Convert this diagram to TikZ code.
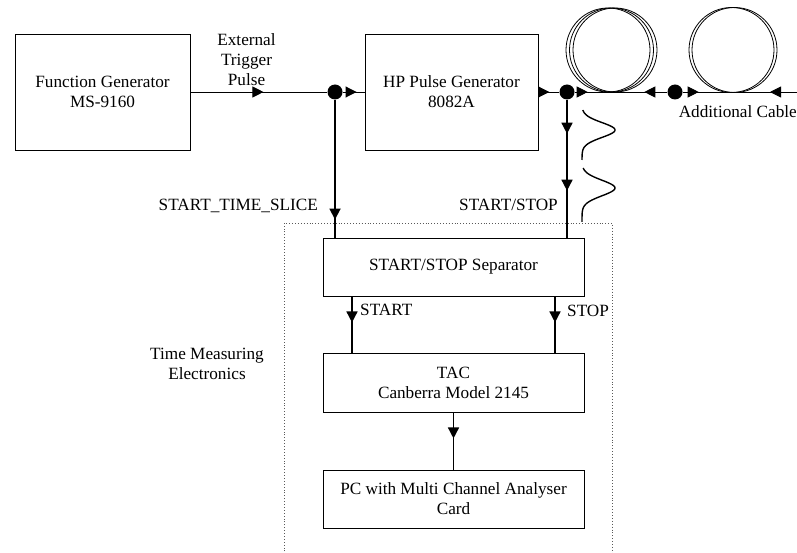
\documentclass[tikz,border=0pt]{standalone}
\usepackage{fontspec}
\setmainfont{Liberation Serif}
\usetikzlibrary{arrows.meta,decorations.markings}
\tikzset{mytip/.tip={Triangle[length=11pt,width=11pt]}}
\begin{document}
\begin{tikzpicture}[x=1pt,y=-1pt,
  font=\fontsize{17.2}{20}\selectfont,
  box/.style={draw,line width=0.9pt,align=center,inner sep=0pt},
  dotn/.style={circle,fill=black,minimum size=15pt,inner sep=0pt},
  wire/.style={line width=0.9pt},
  fwd/.style={postaction={decorate,decoration={markings,mark=at position #1 with {\arrow{mytip}}}}},
  bwd/.style={postaction={decorate,decoration={markings,mark=at position #1 with {\arrowreversed{mytip}}}}},
  lbl/.style={inner sep=0pt}]
\useasboundingbox (0,0) rectangle (797,553);

% boxes
\node[box,minimum width=175pt,minimum height=116pt] (fg) at (102.5,92) {Function Generator\\MS-9160};
\node[box,minimum width=173pt,minimum height=116pt] (hp) at (451.5,92) {HP Pulse Generator\\8082A};
\node[box,minimum width=261pt,minimum height=58pt] (sep) at (453.5,267) {START/STOP Separator};
\node[box,minimum width=261pt,minimum height=59pt] (tac) at (453.5,382.5) {TAC\\Canberra Model 2145};
\node[box,minimum width=261pt,minimum height=58pt] (pc) at (453.5,499) {PC with Multi Channel Analyser\\Card};

% junction dots
\node[dotn] (d1) at (335,92) {};
\node[dotn] (d2) at (567,92) {};
\node[dotn] (d3) at (675,92) {};
\coordinate (cend) at (797,92);

% coils
\foreach \cx in {608,611.5,615} \draw[line width=0.8pt] (\cx,50) circle (42pt);
\foreach \cx in {731.5,734.5} \draw[line width=0.8pt] (\cx,50) circle (42.5pt);

% horizontal signal line
\draw[wire,fwd=73pt] (fg.east) -- (d1);
\draw[wire,fwd=-8pt] (d1) -- (hp.west);
\draw[wire,fwd=-10pt] (hp.east) -- (d2);
\draw[wire,fwd=13pt,bwd=-23pt] (d2) -- (d3);
\draw[wire,fwd=16pt,bwd=-27pt] (d3) -- (cend);

% verticals
\draw[line width=1.8pt,fwd=-18pt] (d1) -- (d1 |- sep.north);
\draw[line width=1.5pt,fwd=34pt,fwd=91pt] (d2) -- (d2 |- sep.north);
\draw[line width=1.5pt,fwd=26pt] (sep.south -| 352,0) -- (tac.north -| 352,0);
\draw[line width=1.5pt,fwd=26pt] (sep.south -| 555,0) -- (tac.north -| 555,0);
\draw[line width=1.5pt,fwd=26pt] (tac.south) -- (pc.north);

% pulses
\draw[line width=1.4pt,smooth] plot[domain=110:160,samples=60] ({582+33*exp(-((\x-130)/10.5)^2)},\x);
\draw[line width=1.4pt,smooth] plot[domain=168:222,samples=60] ({582+33*exp(-((\x-188)/11)^2)},\x);

% dotted region
\draw[dotted,line width=0.9pt,gray!70!black] (284,560) -- (284,223) -- (612,223) -- (612,560);

% labels
\node[lbl,align=center] (ext) at (246.5,60) {External\\Trigger\\Pulse};
\node[lbl,anchor=east] (addc) at (797,112) {Additional Cable};
\node[lbl,anchor=east] (sts) at (318,206) {START\_TIME\_SLICE};
\node[lbl,anchor=east] (ss) at (558,205) {START/STOP};
\node[lbl,anchor=west] (st) at (360,310) {START};
\node[lbl,anchor=west] (sp) at (567,311) {STOP};
\node[lbl,align=center] (tme) at (207,364) {Time Measuring\\Electronics};
\end{tikzpicture}
\end{document}
